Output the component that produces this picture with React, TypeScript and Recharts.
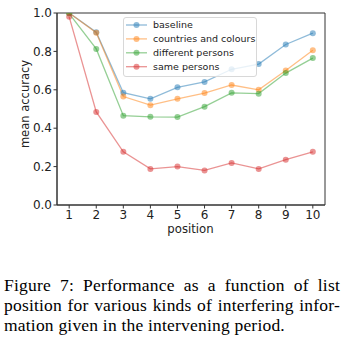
import React from "react";
import { LineChart, Line, XAxis, YAxis, ReferenceArea, Label } from "recharts";

const positions = [1, 2, 3, 4, 5, 6, 7, 8, 9, 10];
const baseline = [1.0, 0.9, 0.585, 0.553, 0.613, 0.641, 0.707, 0.734, 0.836, 0.895];
const countries = [1.0, 0.897, 0.565, 0.52, 0.553, 0.583, 0.625, 0.6, 0.7, 0.806];
const different = [0.997, 0.813, 0.465, 0.459, 0.458, 0.512, 0.584, 0.58, 0.687, 0.765];
const same = [0.98, 0.485, 0.277, 0.188, 0.2, 0.18, 0.219, 0.188, 0.236, 0.277];
const yTicks = [0, 0.2, 0.4, 0.6, 0.8, 1.0];

const seriesNames = ["baseline", "countries and colours", "different persons", "same persons"];
const seriesKeys = ["baseline", "countries", "different", "same"];
const seriesColors = ["#1f77b4", "#ff7f0e", "#2ca02c", "#d62728"];

const captionLines = [
  "Figure 7:  Performance as a function of list",
  "position for various kinds of interfering infor-",
  "mation given in the intervening period.",
];

const data = positions.map((p, i) => ({
  pos: p,
  baseline: baseline[i],
  countries: countries[i],
  different: different[i],
  same: same[i],
}));

const FONT = "'DejaVu Sans', sans-serif";

function LegendBox() {
  return (
    <div
      style={{
        position: "absolute",
        left: 123,
        top: 17,
        width: 134,
        height: 60,
        boxSizing: "border-box",
        border: "1px solid #d8d8d8",
        borderRadius: 3,
        background: "rgba(255,255,255,0.8)",
      }}
    >
      <svg width={134} height={60} style={{ position: "absolute", left: -1, top: -1 }}>
        {seriesNames.map((n, i) => {
          const cy = 8 + i * 13.9;
          return (
            <g key={n}>
              <line x1={3} x2={24} y1={cy} y2={cy} stroke={seriesColors[i]} strokeOpacity={0.5} strokeWidth={1.3} />
              <circle cx={13.5} cy={cy} r={3} fill={seriesColors[i]} fillOpacity={0.5} />
              <text x={30} y={cy + 3.4} fontSize={9.5} fontFamily={FONT} fill="#222">
                {n}
              </text>
            </g>
          );
        })}
      </svg>
    </div>
  );
}

export default function App() {
  return (
    <div style={{ position: "absolute", left: 0, top: 0, width: 359, height: 350, background: "#fff" }}>
      <LineChart width={359} height={240} data={data} margin={{ top: 13, right: 34, left: 0, bottom: 0 }}>
        <XAxis
          dataKey="pos"
          type="number"
          domain={[0.55, 10.45]}
          ticks={positions}
          interval={0}
          allowDataOverflow
          axisLine={{ stroke: "#333" }}
          tickLine={{ stroke: "#333" }}
          tickSize={3.5}
          tickMargin={1.5}
          tick={{ fontSize: 12, fontFamily: FONT, fill: "#222" }}
          height={35}
        >
          <Label
            content={() => (
              <text x={190.5} y={233} textAnchor="middle" fontSize={11.7} fontFamily={FONT} fill="#222">
                position
              </text>
            )}
          />
        </XAxis>
        <YAxis
          type="number"
          domain={[0, 1]}
          ticks={yTicks}
          interval={0}
          allowDataOverflow
          width={57}
          axisLine={{ stroke: "#333" }}
          tickLine={{ stroke: "#333" }}
          tickSize={3.5}
          tickMargin={1.5}
          tickFormatter={(v: number) => v.toFixed(1)}
          tick={{ fontSize: 12, fontFamily: FONT, fill: "#222" }}
        >
          <Label
            content={() => (
              <text
                x={29}
                y={104}
                transform="rotate(-90 29 104)"
                textAnchor="middle"
                fontSize={11.5}
                fontFamily={FONT}
                fill="#222"
              >
                mean accuracy
              </text>
            )}
          />
        </YAxis>
        <ReferenceArea x1={0.55} x2={10.45} y1={0} y2={1} fill="none" stroke="#333" strokeWidth={1} />
        {seriesKeys.map((k, i) => (
          <Line
            key={k}
            dataKey={k}
            name={seriesNames[i]}
            stroke={seriesColors[i]}
            strokeOpacity={0.5}
            strokeWidth={1.3}
            dot={{ r: 3, fill: seriesColors[i], fillOpacity: 0.5, stroke: "none" }}
            isAnimationActive={false}
          />
        ))}
      </LineChart>
      <LegendBox />
      <div
        style={{
          position: "absolute",
          left: 4,
          top: 275,
          width: 336,
          fontFamily: "'Liberation Serif', serif",
          fontSize: 17.5,
          letterSpacing: 0.2,
          lineHeight: "20px",
          color: "#000",
        }}
      >
        {captionLines.map((l, i) => (
          <div key={i} style={{ textAlign: "justify", textAlignLast: i < captionLines.length - 1 ? "justify" : "left", whiteSpace: "nowrap" }}>
            {l}
          </div>
        ))}
      </div>
    </div>
  );
}
